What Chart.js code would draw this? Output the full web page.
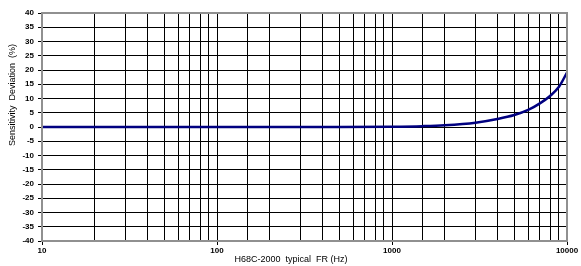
<!DOCTYPE html>
<html>
<head>
<meta charset="utf-8">
<script src="https://cdn.jsdelivr.net/npm/chart.js@4.4.1/dist/chart.umd.min.js"></script>
<style>
  html, body { margin: 0; padding: 0; background: #fff; }
  #wrap { width: 581px; height: 266px; }
</style>
</head>
<body>
<div id="wrap"><canvas id="frChart" width="581" height="266"></canvas></div>
<script>
// frequency response
const freqs = [10, 100, 500, 1000, 1500, 2000, 3000, 4000, 5000, 6000, 7000, 8000, 9000, 10000];
const deviation = [0, 0, 0, 0.1, 0.3, 0.6, 1.5, 2.8, 4.2, 6.0, 8.3, 10.9, 14.1, 19.1];
const majorTicks = [10, 100, 1000, 10000];
const xTitle = 'H68C-2000  typical  FR (Hz)';
const yTitle = 'Sensitivity  Deviation  (%)';

const points = freqs.map((f, i) => ({ x: f, y: deviation[i] }));

const ctx = document.getElementById('frChart').getContext('2d');

new Chart(ctx, {
    type: 'line',
    data: {
        datasets: [{
            data: points,
            borderColor: '#000080',
            borderWidth: 2.5,
            pointRadius: 0,
            cubicInterpolationMode: 'monotone',
            fill: false
        }]
    },
    options: {
        responsive: false,
        animation: false,
        layout: { padding: { left: 0, right: 14, top: 13, bottom: 0 } },
        plugins: {
            legend: { display: false },
            tooltip: { enabled: false }
        },
        scales: {
            x: {
                type: 'logarithmic',
                min: 10,
                max: 10000,
                afterFit: s => { s.height = 25; },
                border: { color: '#909090', width: 2 },
                grid: {
                    color: '#000',
                    lineWidth: 1,
                    tickLength: 4,
                    tickColor: c => majorTicks.includes(c.tick && c.tick.value) ? '#000' : 'rgba(0,0,0,0)'
                },
                ticks: {
                    autoSkip: false,
                    maxRotation: 0,
                    padding: 1,
                    color: '#000',
                    font: { family: 'Liberation Sans, Arial', size: 8, weight: 'bold' },
                    callback: v => majorTicks.includes(v) ? String(v) : ''
                }
            },
            y: {
                min: -40,
                max: 40,
                afterFit: s => { s.width = 42; },
                border: { color: '#909090', width: 2 },
                grid: { color: '#000', lineWidth: 1, tickLength: 4, tickColor: '#000' },
                ticks: {
                    stepSize: 5,
                    padding: 4,
                    color: '#000',
                    font: { family: 'Liberation Sans, Arial', size: 8, weight: 'bold' }
                }
            }
        }
    },
    plugins: [{
        // grey frame round the plot plus the two axis titles, placed off-centre as in the original
        id: 'frameAndTitles',
        afterDraw(chart) {
            const a = chart.chartArea;
            const c = chart.ctx;
            c.save();
            c.strokeStyle = '#909090';
            c.lineWidth = 2;
            c.strokeRect(a.left, a.top, a.right - a.left, a.bottom - a.top);

            c.fillStyle = '#000';
            c.font = '9px "Liberation Sans", Arial';
            c.textAlign = 'center';
            c.textBaseline = 'middle';
            c.fillText(xTitle, 291, 260);

            c.translate(13, 95);
            c.rotate(-Math.PI / 2);
            c.fillText(yTitle, 0, 0);
            c.restore();
        }
    }]
});
</script>
</body>
</html>
